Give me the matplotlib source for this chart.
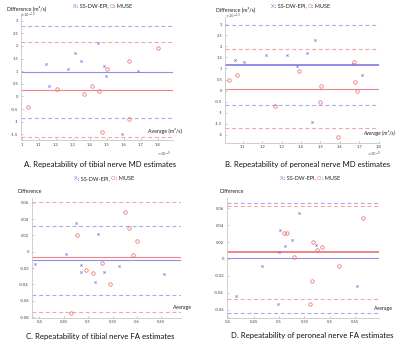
import matplotlib
matplotlib.use("Agg")
import matplotlib.pyplot as plt
from matplotlib.ticker import FixedLocator, FuncFormatter
from matplotlib.offsetbox import TextArea, HPacker, AnnotationBbox

plt.rcParams['font.family'] = ['Lato', 'DejaVu Sans']

# ---------------- data ----------------
# Panel A: tibial nerve MD (average x1e-9, difference x1e-10)
A_ss_avg = [1.145, 1.16, 1.27, 1.31, 1.35, 1.447, 1.484, 1.494, 1.59, 1.684]
A_ss_diff = [1.3, 0.4, 1.1, 1.7, 1.4, 2.1, 1.2, 0.8, -1.5, 1.0]
A_mu_avg = [1.04, 1.21, 1.367, 1.414, 1.453, 1.47, 1.5, 1.63, 1.63, 1.8]
A_mu_diff = [-0.4, 0.3, 0.1, 0.4, 0.2, -1.4, 1.1, 1.4, -0.9, 1.9]
A_ss_lines = [0.95, 2.77, -0.86]   # mean, upper, lower
A_mu_lines = [0.27, 2.17, -1.60]

# Panel B: peroneal nerve MD
B_ss_avg = [1.062, 1.109, 1.222, 1.33, 1.38, 1.43, 1.47, 1.455, 1.67, 1.716]
B_ss_diff = [1.4, 1.3, 1.6, 1.6, 1.1, 1.7, 2.3, -1.4, 1.2, 0.7]
B_mu_avg = [1.03, 1.069, 1.265, 1.39, 1.505, 1.5, 1.59, 1.675, 1.68, 1.69]
B_mu_diff = [0.5, 0.7, -0.7, 0.9, 0.2, -0.5, -2.1, 1.3, 0.4, 0.0]
B_ss_lines = [1.16, 2.98, -0.67]
B_mu_lines = [0.06, 1.87, -1.70]

# Panel C: tibial nerve FA
C_ss_avg = [0.392, 0.455, 0.475, 0.486, 0.486, 0.521, 0.514, 0.533, 0.564, 0.656]
C_ss_diff = [-0.015, -0.003, 0.0355, -0.016, -0.025, 0.0216, -0.037, -0.0245, -0.017, -0.027]
C_mu_avg = [0.477, 0.465, 0.495, 0.51, 0.528, 0.545, 0.576, 0.584, 0.592, 0.6]
C_mu_diff = [0.021, -0.0747, -0.022, -0.0257, -0.0139, -0.039, 0.0486, 0.0294, -0.0037, 0.0135]
C_ss_lines = [-0.0106, 0.032, -0.0535]
C_mu_lines = [-0.0070, 0.0604, -0.0743]

# Panel D: peroneal nerve FA
D_ss_avg = [0.415, 0.467, 0.5, 0.502, 0.498, 0.511, 0.526, 0.539, 0.572, 0.654]
D_ss_diff = [-0.0441, -0.0087, 0.0079, 0.0339, -0.0535, 0.015, 0.022, 0.0547, 0.016, -0.0323]
D_mu_avg = [0.51, 0.516, 0.529, 0.566, 0.574, 0.585, 0.561, 0.564, 0.617, 0.665]
D_mu_diff = [0.031, 0.031, 0.0028, 0.020, 0.011, 0.0142, -0.0528, -0.0256, -0.0087, 0.0484]
D_ss_lines = [0.0008, 0.0665, -0.064]
D_mu_lines = [0.0079, 0.0626, -0.047]

A_xticks = [1, 1.1, 1.2, 1.3, 1.4, 1.5, 1.6, 1.7, 1.8]
A_yticks = [-1.5, -1, -0.5, 0, 0.5, 1, 1.5, 2, 2.5, 3]
B_xticks = [1.1, 1.2, 1.3, 1.4, 1.5, 1.6, 1.7, 1.8]
B_yticks = [-2, -1.5, -1, -0.5, 0, 0.5, 1, 1.5, 2, 2.5, 3]
C_xticks = [0.4, 0.45, 0.5, 0.55, 0.6, 0.65]
C_yticks = [-0.08, -0.06, -0.04, -0.02, 0, 0.02, 0.04, 0.06]
D_xticks = [0.4, 0.45, 0.5, 0.55, 0.6, 0.65]
D_yticks = [-0.06, -0.04, -0.02, 0, 0.02, 0.04, 0.06]

captions = ["A. Repeatability of tibial nerve MD estimates",
            "B. Repeatability of peroneal nerve MD estimates",
            "C. Repeatability of tibial nerve FA estimates",
            "D. Repeatability of peroneal nerve FA estimates"]

# ---------------- styling ----------------
W, H = 400, 343
BLUE = '#7b7bea'
RED = '#ee6f6f'
BLUE_L = '#a9a9f2'
RED_L = '#f2a7a7'
TXT = '#222222'
TICK_FS = 3.0

fig = plt.figure(figsize=(W / 100, H / 100), dpi=100)


def fx(x):
    return x / W


def fy(y):
    return 1 - y / H


def make_axes(L, T, R, B):
    return fig.add_axes([L / W, 1 - B / H, (R - L) / W, (B - T) / H])


def panel(rect, xlim, ylim, xt, yt, ss_avg, ss_diff, mu_avg, mu_diff, ss_lines, mu_lines,
          mean_lw=(0.8, 0.8)):
    ax = make_axes(*rect)
    ax.set_facecolor('none')
    ax.axhline(ss_lines[1], color=BLUE_L, lw=0.8, ls=(0, (3.5, 2.5)))
    ax.axhline(ss_lines[2], color=BLUE_L, lw=0.8, ls=(0, (3.5, 2.5)))
    ax.axhline(mu_lines[1], color=RED_L, lw=0.8, ls=(0, (3.5, 2.5)))
    ax.axhline(mu_lines[2], color=RED_L, lw=0.8, ls=(0, (3.5, 2.5)))
    ax.axhline(ss_lines[0], color=BLUE, lw=mean_lw[0], alpha=0.85)
    ax.axhline(mu_lines[0], color=RED, lw=mean_lw[1], alpha=0.85)
    ax.plot(ss_avg, ss_diff, ls='none', marker='x', ms=1.6, mew=0.55, color=BLUE)
    ax.plot(mu_avg, mu_diff, ls='none', marker='o', ms=2.5, mew=0.55, mfc='none', mec=RED)
    ax.set_xlim(*xlim)
    ax.set_ylim(*ylim)
    ax.xaxis.set_major_locator(FixedLocator(xt))
    ax.yaxis.set_major_locator(FixedLocator(yt))
    fmt = FuncFormatter(lambda v, p: f"{v:g}")
    ax.xaxis.set_major_formatter(fmt)
    ax.yaxis.set_major_formatter(fmt)
    for s in ['top', 'right']:
        ax.spines[s].set_visible(False)
    for s in ['left', 'bottom']:
        ax.spines[s].set_color('#c8c8c8')
        ax.spines[s].set_linewidth(0.6)
    ax.tick_params(direction='in', length=1.5, width=0.4, colors='#999999',
                   labelsize=TICK_FS, labelcolor='#444444', pad=2)
    return ax


axA = panel((21, 13.1, 173, 140), (0.996, 1.888), (-1.726, 3.3), A_xticks, A_yticks,
            A_ss_avg, A_ss_diff, A_mu_avg, A_mu_diff, A_ss_lines, A_mu_lines)
axB = panel((225, 17.5, 379.3, 142.7), (1.009, 1.803), (-2.35, 3.3), B_xticks, B_yticks,
            B_ss_avg, B_ss_diff, B_mu_avg, B_mu_diff, B_ss_lines, B_mu_lines,
            mean_lw=(1.4, 0.8))
axC = panel((31.7, 197.8, 180.7, 317.7), (0.3844, 0.6897), (-0.0808, 0.066), C_xticks, C_yticks,
            C_ss_avg, C_ss_diff, C_mu_avg, C_mu_diff, C_ss_lines, C_mu_lines)
axD = panel((226.7, 198, 379.3, 317.7), (0.3969, 0.6972), (-0.0693, 0.072), D_xticks, D_yticks,
            D_ss_avg, D_ss_diff, D_mu_avg, D_mu_diff, D_ss_lines, D_mu_lines,
            mean_lw=(0.8, 1.4))


def legend_text(cx, cy):
    fs = 4.0
    parts = [("X", BLUE), (": SS-DW-EPI, ", TXT), ("O", RED), (": MUSE", TXT)]
    boxes = [TextArea(t, textprops=dict(color=c, fontsize=fs)) for t, c in parts]
    pack = HPacker(children=boxes, align='baseline', pad=0, sep=0)
    ab = AnnotationBbox(pack, (fx(cx), fy(cy)), xycoords='figure fraction',
                        frameon=False, box_alignment=(0.5, 0.5))
    fig.add_artist(ab)


legend_text(103, 6)
legend_text(301, 6)
legend_text(104, 178.3)
legend_text(310, 178)

LAB_FS = 3.8
fig.text(fx(7), fy(8), "Difference (m²/s)", fontsize=LAB_FS, color=TXT, va='center', ha='left')
fig.text(fx(215.7), fy(9.3), "Difference (m²/s)", fontsize=LAB_FS, color=TXT, va='center', ha='left')
fig.text(fx(17.7), fy(191.7), "Difference", fontsize=LAB_FS, color=TXT, va='center', ha='left')
fig.text(fx(219), fy(191.7), "Difference", fontsize=LAB_FS, color=TXT, va='center', ha='left')

EXP_FS = 2.8
fig.text(fx(20.5), fy(15), r"$\times10^{-10}$", fontsize=EXP_FS, color='#555555', va='center', ha='left')
fig.text(fx(225.3), fy(16), r"$\times10^{-10}$", fontsize=EXP_FS, color='#555555', va='center', ha='left')
fig.text(fx(170.5), fy(154), r"$\times10^{-9}$", fontsize=EXP_FS, color='#555555', va='center', ha='right')
fig.text(fx(381), fy(154), r"$\times10^{-9}$", fontsize=EXP_FS, color='#555555', va='center', ha='right')

fig.text(fx(182), fy(131), "Average (m²/s)", fontsize=LAB_FS, color=TXT, va='center', ha='right')
fig.text(fx(395), fy(132.7), "Average (m²/s)", fontsize=LAB_FS, color=TXT, va='center', ha='right',
         style='italic')
fig.text(fx(191.7), fy(307.7), "Average", fontsize=LAB_FS, color=TXT, va='center', ha='right')
fig.text(fx(392.7), fy(308.3), "Average", fontsize=LAB_FS, color=TXT, va='center', ha='right')

CAP_FS = 5.6
fig.text(fx(99.7), fy(164.5), captions[0], fontsize=CAP_FS, color='#111111', ha='center', va='center')
fig.text(fx(308), fy(164.3), captions[1], fontsize=CAP_FS, color='#111111', ha='center', va='center')
fig.text(fx(100), fy(336), captions[2], fontsize=CAP_FS, color='#111111', ha='center', va='center')
fig.text(fx(312.5), fy(335.3), captions[3], fontsize=CAP_FS, color='#111111', ha='center', va='center')

fig.savefig("out.png", dpi=100, facecolor='white')
